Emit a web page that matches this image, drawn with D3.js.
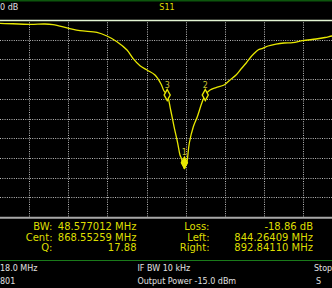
<!DOCTYPE html>
<html><head><meta charset="utf-8">
<script src="https://cdn.jsdelivr.net/npm/d3@7"></script>
<style>
html,body{margin:0;padding:0;background:#000;}
svg{display:block;}
text{font-family:"DejaVu Sans",sans-serif;}
</style></head>
<body>
<svg id="c" width="332" height="288"></svg>
<script>
// ---- data ----
const freqMHz = [618, 631.0, 669.3, 688.4, 698.6, 717.7, 733.0, 754.7, 767.4, 780.2, 793.0, 800.6, 809.6, 818.5, 828.7, 836.4, 840.2, 844.3, 848.7, 853.0, 857.7, 860.6, 862.6, 863.8, 865.2, 866.2, 867.3, 868.3, 869.0, 870.2, 872.5, 877.6, 882.7, 888.3, 892.8, 898.9, 906.6, 916.8, 924.4, 932.1, 938.4, 944.8, 949.9, 955.4, 960.1, 966.1, 972.9, 983.1, 993.3, 1004.4, 1017.1, 1034.1, 1045.6, 1054.6, 1070];
const s11dB   = [-0.42, -0.42, -0.55, -0.51, -0.60, -1.02, -1.36, -1.56, -2.03, -2.75, -3.81, -4.86, -5.80, -6.35, -6.98, -8.12, -9.01, -9.52, -11.42, -13.54, -15.65, -17.13, -17.6, -18.3, -18.6, -18.86, -18.7, -17.8, -18.3, -17.51, -15.61, -13.54, -12.27, -10.57, -9.52, -8.88, -8.57, -8.25, -7.61, -6.98, -6.22, -5.49, -4.82, -4.23, -3.81, -3.59, -3.30, -3.05, -2.92, -2.88, -2.63, -2.41, -2.22, -2.03, -1.8];
const markerIds  = ["3", "2", "1"];
const markerFreq = [844.26, 892.84, 866.2];
const markerDB   = [-9.52, -9.52, -18.1];
const markerFill = [false, false, true];
const leftLabels  = ["BW:", "Cent:", "Q:"];
const leftValues  = ["48.577012 MHz", "868.55259 MHz", "17.88"];
const rightLabels = ["Loss:", "Left:", "Right:"];
const rightValues = ["-18.86 dB", "844.26409 MHz", "892.84110 MHz"];
const freqDomain = [618, 1118];
const freqTicks = d3.range(668, 1118, 50);
const dbDomain = [-25, 0];
const dbTicks = d3.range(-22.5, 0, 2.5);
const topLeftText = "0 dB";
const titleText = "S11";
const footerRow1 = ["18.0 MHz", "IF BW 10 kHz", "Stop"];
const footerRow2 = ["801", "Output Power -15.0 dBm", "S"];

// ---- drawing ----
const svg = d3.select("#c");
const W = 332, H = 288;
svg.append("rect").attr("width", W).attr("height", H).attr("fill", "#000");

const x = d3.scaleLinear().domain(freqDomain).range([-10.2, 381.8]);
const y = d3.scaleLinear().domain(dbDomain).range([217, 20]);

const yellow = "#e8e800";
const textYellow = "#dede00";

// top dark green strip
svg.append("rect").attr("x", 0).attr("y", 0).attr("width", W).attr("height", 1.5).attr("fill", "#0d560d");

// grid
const grid = svg.append("g");
grid.selectAll("line.v").data(freqTicks).join("line")
  .attr("x1", d => Math.round(x(d)) + 0.5).attr("x2", d => Math.round(x(d)) + 0.5)
  .attr("y1", y(0)).attr("y2", y(-25))
  .attr("stroke", "#bdbdbd").attr("stroke-width", 1).attr("stroke-dasharray", "1,1.3");
grid.selectAll("line.h").data(dbTicks).join("line")
  .attr("x1", 0).attr("x2", W)
  .attr("y1", d => Math.round(y(d)) + 0.5).attr("y2", d => Math.round(y(d)) + 0.5)
  .attr("stroke", "#bdbdbd").attr("stroke-width", 1).attr("stroke-dasharray", "1,1.3");
// top reference line and bottom border
svg.append("line").attr("x1", 0).attr("x2", W).attr("y1", y(0) + 0.5).attr("y2", y(0) + 0.5)
  .attr("stroke", "#e4f6d4").attr("stroke-width", 1.3);
svg.append("line").attr("x1", 0).attr("x2", W).attr("y1", y(-25) + 0.8).attr("y2", y(-25) + 0.8)
  .attr("stroke", "#a8a8a8").attr("stroke-width", 2);

// trace
const line = d3.line().x((d, i) => x(freqMHz[i])).y((d, i) => y(s11dB[i])).curve(d3.curveCatmullRom);
svg.append("path").datum(s11dB).attr("d", line)
  .attr("fill", "none").attr("stroke", yellow).attr("stroke-width", 1.3);

// markers
const mk = svg.append("g");
markerIds.forEach((id, i) => {
  const cx = x(markerFreq[i]), cy = y(markerDB[i]);
  mk.append("path")
    .attr("d", `M${cx},${cy - 5.5} L${cx + 3},${cy} L${cx},${cy + 5.5} L${cx - 3},${cy} Z`)
    .attr("fill", markerFill[i] ? yellow : "#000").attr("stroke", yellow).attr("stroke-width", 1.4);
  mk.append("text").attr("x", cx).attr("y", cy - 7.5).attr("text-anchor", "middle")
    .attr("font-size", 8).attr("fill", "#c8c030").text(id);
});

// top texts
svg.append("text").attr("x", 0).attr("y", 10).attr("font-size", 8).attr("fill", "#e0e0e0").text(topLeftText);
svg.append("text").attr("x", 167).attr("y", 10).attr("text-anchor", "middle").attr("font-size", 8).attr("fill", textYellow).text(titleText);

// result panel
const rowY = [229.5, 240.5, 251];
leftLabels.forEach((t, i) => {
  svg.append("text").attr("x", 52.5).attr("y", rowY[i]).attr("text-anchor", "end").attr("font-size", 10).attr("fill", textYellow).text(t);
  svg.append("text").attr("x", 136.5).attr("y", rowY[i]).attr("text-anchor", "end").attr("font-size", 10).attr("fill", textYellow).text(leftValues[i]);
});
rightLabels.forEach((t, i) => {
  svg.append("text").attr("x", 209.5).attr("y", rowY[i]).attr("text-anchor", "end").attr("font-size", 10).attr("fill", textYellow).text(t);
  svg.append("text").attr("x", 313).attr("y", rowY[i]).attr("text-anchor", "end").attr("font-size", 10).attr("fill", textYellow).text(rightValues[i]);
});

// green separator
svg.append("line").attr("x1", 0).attr("x2", W).attr("y1", 260.5).attr("y2", 260.5).attr("stroke", "#1a7a1a").attr("stroke-width", 1);

// footer
const fx = [0, 137.5, 314];
footerRow1.forEach((t, i) => svg.append("text").attr("x", fx[i]).attr("y", 270.5).attr("font-size", 8).attr("fill", "#e0e0e0").text(t));
const fx2 = [0, 137.5, 316];
footerRow2.forEach((t, i) => svg.append("text").attr("x", fx2[i]).attr("y", 283.5).attr("font-size", 8).attr("fill", "#e0e0e0").text(t));
</script>
</body></html>
